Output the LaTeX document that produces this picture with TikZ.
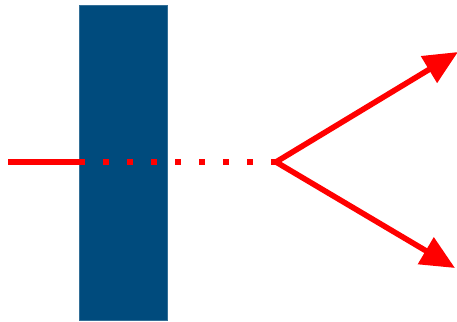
\documentclass[tikz,border=0pt]{standalone}
\usetikzlibrary{arrows.meta}

\definecolor{slabblue}{RGB}{0,75,125}

\begin{document}
\begin{tikzpicture}[
  x=1pt, y=-1pt,
  slab/.style={rectangle, fill=slabblue, draw=slabblue!80, line width=0.4pt,
               minimum width=88pt, minimum height=315pt, inner sep=0pt},
  ray/.style={draw=red, line width=5.6pt},
  dotray/.style={ray, dash pattern=on 6pt off 18pt},
  arr/.style={ray, -{Triangle[length=34pt, width=30pt]}},
]
\useasboundingbox (0,0) rectangle (457,321);

% ── Plaque ───────────────────────────────────────────────────────────
\node[slab] (plate) at (123, 162.5) {};

% ── Points du rayon ──────────────────────────────────────────────────
\coordinate (src)   at (8, 162);
\coordinate (entry) at (79, 162);
\coordinate (split) at (276, 162);
\coordinate (up)    at (458, 52);
\coordinate (down)  at (455, 268);

% ── Rayon incident et trajet dans la plaque ──────────────────────────
\draw[ray] (src) -- (entry);
\draw[dotray] (entry) -- (split);

% ── Rayons sortants ──────────────────────────────────────────────────
\draw[arr] (split) -- (up);
\draw[arr] (split) -- (down);

\end{tikzpicture}
\end{document}
